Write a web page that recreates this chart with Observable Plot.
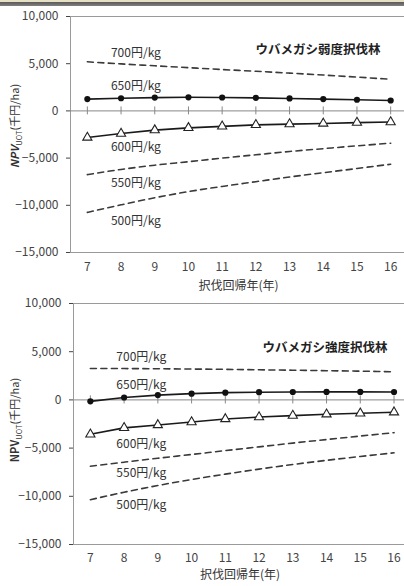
<!DOCTYPE html>
<html><head><meta charset="utf-8">
<script src="https://cdn.jsdelivr.net/npm/d3@7"></script>
<script src="https://cdn.jsdelivr.net/npm/@observablehq/plot@0.6"></script>
<style>
body{margin:0;width:404px;height:586px;overflow:hidden;position:relative;background:#fff;font-family:"Noto Sans CJK JP","Noto Sans",sans-serif;}
#bar{position:absolute;left:0;top:0;width:404px;height:6px;z-index:5;background:linear-gradient(#e6e1c4 0,#e6e1c4 1.5px,#5a5a5a 2px,#808080 6px);}
.panel{position:absolute;left:0;}
.ytitle{position:absolute;transform:translate(-50%,-50%) rotate(-90deg);white-space:nowrap;font-size:11px;color:#333;z-index:4;}
.ytitle sub{font-size:7.5px;}
</style></head><body>
<div id="bar"></div>
<div id="p1" class="panel" style="top:0"></div>
<div id="p2" class="panel" style="top:286px"></div>
<div class="ytitle" style="left:15px;top:126px"><b><i>NPV</i></b><sub>UOT</sub>(千円/ha)</div>
<div class="ytitle" style="left:15px;top:420px"><b>NPV</b><sub>UOT</sub>(千円/ha)</div>
<script>
const years = [7, 8, 9, 10, 11, 12, 13, 14, 15, 16];
const yTicks = [-15000, -10000, -5000, 0, 5000, 10000];
const priceLabels = ["700円/kg", "650円/kg", "600円/kg", "550円/kg", "500円/kg"];

// ウバメガシ弱度択伐林
const weak700 = [5200, 4980, 4780, 4580, 4380, 4200, 4000, 3800, 3580, 3350];
const weak650 = [1250, 1340, 1410, 1440, 1420, 1380, 1320, 1250, 1180, 1100];
const weak600 = [-2820, -2400, -2040, -1800, -1640, -1480, -1400, -1330, -1240, -1180];
const weak550 = [-6750, -6200, -5750, -5380, -5000, -4650, -4300, -4000, -3700, -3420];
const weak500 = [-10750, -9950, -9200, -8550, -8000, -7500, -7000, -6550, -6100, -5650];
const weakLabelY = [6160, 2640, -3880, -7700, -11630];

// ウバメガシ強度択伐林
const strong700 = [3260, 3250, 3230, 3200, 3170, 3120, 3080, 3030, 2980, 2920];
const strong650 = [-150, 250, 500, 650, 750, 800, 820, 830, 830, 820];
const strong600 = [-3570, -2900, -2600, -2300, -1980, -1780, -1630, -1490, -1390, -1280];
const strong550 = [-6880, -6460, -6050, -5660, -5260, -4870, -4480, -4110, -3750, -3400];
const strong500 = [-10350, -9580, -8880, -8260, -7700, -7180, -6700, -6270, -5870, -5490];
const strongLabelY = [4480, 1560, -4620, -7570, -10870];

const weakTitle = "ウバメガシ弱度択伐林";
const strongTitle = "ウバメガシ強度択伐林";
const xTitle = "択伐回帰年(年)";

function makePanel(cfg) {
  const toRows = (vals) => years.map((x, i) => ({x, y: vals[i]}));
  const [s700, s650, s600, s550, s500] = cfg.series.map(toRows);
  const labels = priceLabels.map((t, i) => ({t, y: cfg.labelY[i]}));
  const dash = {x: "x", y: "y", stroke: "#3a3a3a", strokeWidth: 1.6, strokeDasharray: "6,4.5", curve: "monotone-x"};
  return Plot.plot({
    width: 404, height: cfg.height,
    marginTop: cfg.mt, marginBottom: cfg.mb, marginLeft: cfg.ml, marginRight: -2,
    style: {background: "transparent", color: "#444", fontFamily: '"Noto Sans CJK JP","Noto Sans",sans-serif', fontSize: "12px"},
    x: {domain: [6.5, cfg.xmax]},
    y: {domain: [-15000, 10000]},
    marks: [
      Plot.frame({stroke: "#9a9a9a"}),
      Plot.ruleY([0], {stroke: "#888"}),
      Plot.ruleX(years, {y1: -420, y2: 420, stroke: "#888"}),
      Plot.axisY(yTicks, {tickFormat: d3.format(","), tickSize: 4, tickPadding: 8, label: null, fontSize: 12}),
      Plot.axisX(years, {tickSize: 0, tickPadding: cfg.xpad, label: null, fontSize: 12}),
      Plot.line(s700, dash),
      Plot.line(s550, dash),
      Plot.line(s500, dash),
      Plot.line(s650, {x: "x", y: "y", stroke: "#1a1a1a", strokeWidth: 1.6}),
      Plot.dot(s650, {x: "x", y: "y", r: 3.1, fill: "#111"}),
      Plot.line(s600, {x: "x", y: "y", stroke: "#1a1a1a", strokeWidth: 1.6}),
      Plot.dot(s600, {x: "x", y: "y", symbol: "triangle", r: 3.4, fill: "white", stroke: "#222", strokeWidth: 1.1}),
      Plot.text(labels, {x: cfg.labelX, y: "y", text: "t", textAnchor: "start", fill: "#333", fontSize: 12}),
      Plot.text([cfg.title], {frameAnchor: "top-right", dx: cfg.tdx, dy: cfg.tdy, textAnchor: "end", fontWeight: "bold", fontSize: 12.5, fill: "#222"}),
      Plot.text([xTitle], {frameAnchor: "bottom", dy: cfg.xtdy, fontSize: 12, fill: "#333"})
    ]
  });
}

document.getElementById("p1").append(makePanel({
  series: [weak700, weak650, weak600, weak550, weak500], labelY: weakLabelY,
  title: weakTitle, height: 300, mt: 16, mb: 48, ml: 70, xmax: 16.47, xpad: 10,
  labelX: 7.7, tdx: -26, tdy: 29, xtdy: 37
}));
document.getElementById("p2").append(makePanel({
  series: [strong700, strong650, strong600, strong550, strong500], labelY: strongLabelY,
  title: strongTitle, height: 300, mt: 17, mb: 42, ml: 73, xmax: 16.37, xpad: 9,
  labelX: 7.77, tdx: -19, tdy: 40, xtdy: 34
}));
</script>
</body></html>
